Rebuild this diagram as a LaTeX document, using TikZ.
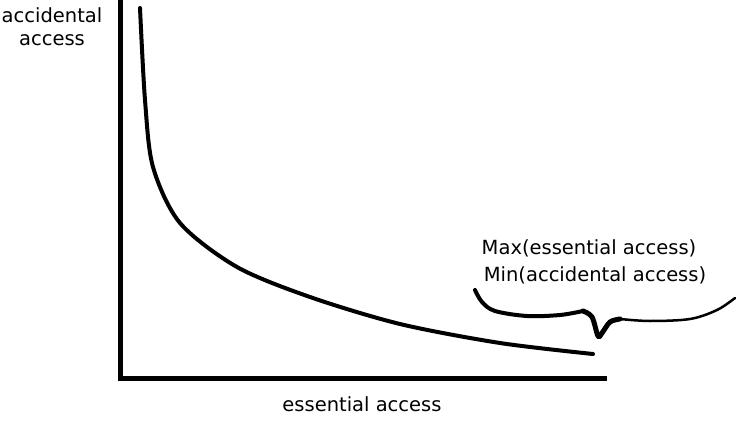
\documentclass[tikz,border=0pt]{standalone}
\usepackage{fontspec}
\setmainfont{DejaVu Sans}
\usetikzlibrary{positioning}

\tikzset{
    axisline/.style={line width=5pt},
    sketchline/.style={line width=4pt, line cap=round, line join=round},
    label/.style={font=\fontsize{19.5}{23}\selectfont, inner sep=0pt, align=center}
}

\begin{document}
\begin{tikzpicture}[x=1pt,y=-1pt]
    \useasboundingbox (0,0) rectangle (752,425);

    % Draw the axes
    \coordinate (top) at (120,0);
    \coordinate (origin) at (120,378);
    \coordinate (right) at (607,378);
    \draw[axisline] (top) -- (origin) -- (right);

    % Axis labels
    \node[label] (ylabel) at (52,27) {accidental\\access};
    \node[label] (xlabel) at (362,404) {essential access};

    % Draw the trade-off curve
    \draw[sketchline] plot[smooth, tension=0.5] coordinates {
        (140,8) (145,100) (153,167) (180,223) (237,267) (310,297)
        (400,324) (500,343) (593,354)};

    % Draw the brace
    \draw[sketchline] plot[smooth, tension=0.55] coordinates {
        (475,290) (482,302) (495,311) (527,316) (560,315) (583,311)};
    \draw[line width=5pt, line cap=round, line join=round] plot[smooth, tension=0.55] coordinates {
        (583,311) (592,317) (598,336) (602,333) (610,322) (620,319)};
    \draw[line width=2.5pt, line cap=round] plot[smooth, tension=0.55] coordinates {
        (620,319) (650,321) (690,319) (717,310) (735,298)};

    % Brace labels
    \node[label] (maxlabel) at (589,248) {Max(essential access)};
    \node[label] (minlabel) at (595,275) {Min(accidental access)};
\end{tikzpicture}
\end{document}
